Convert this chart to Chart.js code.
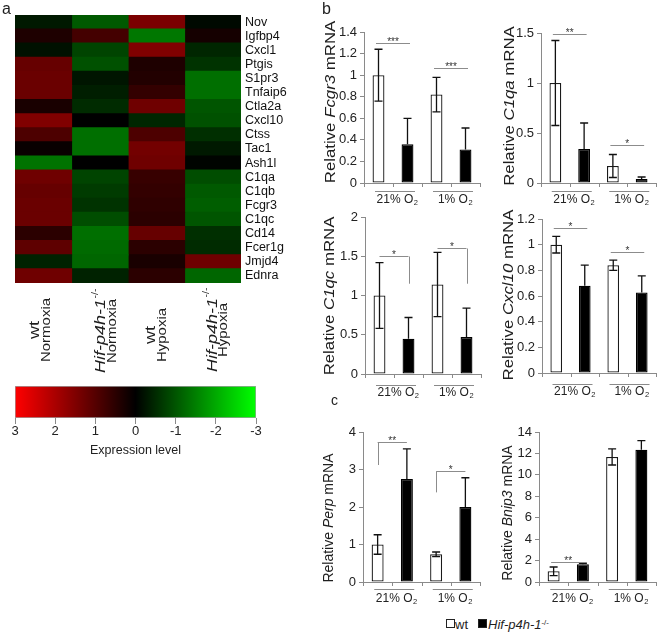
<!DOCTYPE html>
<html><head><meta charset="utf-8">
<script src="https://cdn.jsdelivr.net/npm/chart.js@4.4.1/dist/chart.umd.min.js"></script>
<style>
body{margin:0;background:#fff;width:660px;height:633px;position:relative;overflow:hidden;font-family:"Liberation Sans",Arial,sans-serif;}
canvas{position:absolute;}
.t{position:absolute;white-space:nowrap;color:#1e1e1e;line-height:1;}
.r{transform:translate(-50%,-50%) rotate(-90deg) scaleX(1.2);}
.rc{transform:translate(-50%,-50%) rotate(-90deg) scaleX(1.0);}
sup{font-size:60%;vertical-align:0.55em;line-height:0;}
.box{position:absolute;width:7px;height:7px;border:1px solid #222;}
</style></head><body>

<canvas id="hm" width="320" height="380" style="left:0;top:0"></canvas>
<canvas id="cb" width="300" height="90" style="left:0;top:375px"></canvas>
<canvas id="c1" width="170" height="215" style="left:320px;top:0"></canvas>
<canvas id="c2" width="170" height="215" style="left:490px;top:0"></canvas>
<canvas id="c3" width="170" height="200" style="left:320px;top:205px"></canvas>
<canvas id="c4" width="170" height="200" style="left:490px;top:205px"></canvas>
<canvas id="c5" width="170" height="200" style="left:320px;top:415px"></canvas>
<canvas id="c6" width="170" height="200" style="left:490px;top:415px"></canvas>

<div class="t" style="left:2px;top:1px;font-size:16px">a</div>
<div class="t" style="left:322px;top:1px;font-size:16px">b</div>
<div class="t" style="left:331px;top:393px;font-size:14px">c</div>

<div class="t r" style="left:330px;top:101.5px;font-size:14px">Relative <i>Fcgr3</i> mRNA</div>
<div class="t r" style="left:509px;top:106px;font-size:14px">Relative <i>C1qa</i> mRNA</div>
<div class="t r" style="left:329px;top:296px;font-size:14px">Relative <i>C1qc</i> mRNA</div>
<div class="t r" style="left:508px;top:295px;font-size:14px">Relative <i>Cxcl10</i> mRNA</div>
<div class="t rc" style="left:328px;top:518px;font-size:14px">Relative <i>Perp</i> mRNA</div>
<div class="t rc" style="left:507px;top:513px;font-size:14px">Relative <i>Bnip3</i> mRNA</div>

<div class="box" style="left:446px;top:619px;background:#fff"></div>
<div class="t" style="left:455px;top:618px;font-size:13px">wt</div>
<div class="box" style="left:478px;top:619px;background:#000"></div>
<div class="t" style="left:488px;top:618px;font-size:13px"><i>Hif-p4h-1</i><sup>-/-</sup></div>

<script>
// ---------- Heatmap data (expression level, red = up, green = down) ----------
const genes = ['Nov','Igfbp4','Cxcl1','Ptgis','S1pr3','Tnfaip6','Ctla2a','Cxcl10','Ctss','Tac1','Ash1l','C1qa','C1qb','Fcgr3','C1qc','Cd14','Fcer1g','Jmjd4','Ednra'];
const genotypes = ['wt', 'Hif-p4h-1', 'wt', 'Hif-p4h-1'];
const oxygenStates = ['Normoxia', 'Normoxia', 'Hypoxia', 'Hypoxia'];
const wtNormoxia = [-0.3, 0.35, -0.2, 1.2, 1.25, 1.25, 0.3, 1.5, 0.9, 0.1, -1.35, 1.3, 1.2, 1.25, 1.25, 0.5, 1.1, -0.4, 1.3];
const koNormoxia = [-1.05, 0.8, -0.8, -0.95, -0.25, -0.35, -0.5, 0.0, -1.3, -1.3, 0.0, -0.8, -0.7, -0.6, -0.9, -1.3, -1.25, -1.2, -0.4];
const wtHypoxia  = [1.45, -1.4, 1.5, 0.35, 0.4, 0.6, 1.3, -0.45, 0.9, 1.35, 1.3, 0.65, 0.6, 0.55, 0.5, 1.2, 0.5, 0.3, 0.5];
const koHypoxia  = [-0.1, 0.25, -0.45, -0.6, -1.3, -1.3, -1.0, -0.95, -0.55, -0.3, -0.05, -0.9, -1.05, -1.1, -1.0, -0.55, -0.5, 1.3, -1.2];
const cellWidth  = [1, 1, 1, 1, 1, 1, 1, 1, 1, 1, 1, 1, 1, 1, 1, 1, 1, 1, 1];
const colorbarRange = [3, -3];

// ---------- qPCR bar data ----------
const oxygen = ['21% O2', '1% O2'];
const fcgr3Wt = [1.0, 0.82],  fcgr3WtErr = [0.24, 0.16],  fcgr3Ko = [0.36, 0.31],  fcgr3KoErr = [0.24, 0.20];
const c1qaWt  = [1.0, 0.17],  c1qaWtErr  = [0.425, 0.115], c1qaKo = [0.34, 0.04],  c1qaKoErr  = [0.26, 0.02];
const c1qcWt  = [1.0, 1.14],  c1qcWtErr  = [0.42, 0.41],  c1qcKo  = [0.45, 0.47],  c1qcKoErr  = [0.27, 0.37];
const cxcl10Wt = [1.0, 0.84], cxcl10WtErr = [0.065, 0.04], cxcl10Ko = [0.68, 0.627], cxcl10KoErr = [0.16, 0.13];
const perpWt  = [1.0, 0.74],  perpWtErr  = [0.26, 0.06],  perpKo  = [2.75, 2.0],   perpKoErr  = [0.8, 0.78];
const bnip3Wt = [1.0, 11.67], bnip3WtErr = [0.4, 0.75],   bnip3Ko = [1.65, 12.35], bnip3KoErr = [0.1, 0.85];
// significance marks: group, bar height (value), optional bracket leg, label
const fcgr3Sig  = [{g:0, y:1.30, t:'***'}, {g:1, y:1.07, t:'***'}];
const c1qaSig   = [{g:0, y:1.49, t:'**'}, {g:1, y:0.377, t:'*'}];
const c1qcSig   = [{g:0, y:1.50, leg:'right', to:1.15, t:'*'}, {g:1, y:1.61, leg:'right', to:1.15, t:'*'}];
const cxcl10Sig = [{g:0, y:1.13, t:'*'}, {g:1, y:0.94, t:'*'}];
const perpSig   = [{g:0, y:3.74, leg:'left', to:3.12, t:'**'}, {g:1, y:2.95, leg:'left', to:2.39, t:'*'}];
const bnip3Sig  = [{g:0, y:1.83, t:'**'}];

const F = '"Liberation Sans", Arial, sans-serif';
const AX = '#8a8a8a';

function cellColor(v){
  const c = Math.round(255 * Math.min(1, Math.abs(v) / 3));
  return v >= 0 ? `rgb(${c},0,0)` : `rgb(0,${c},0)`;
}

// rotated column labels under the heatmap
const colLabels = {
  id: 'colLabels',
  afterDraw(chart, args, o) {
    const ctx = chart.ctx, xs = chart.scales.x;
    o.shift.forEach((dx, i) => {
      const cx = xs.getPixelForValue(i + 0.5) + dx;
      const cy = o.cy[i];
      const ko = genotypes[i] !== 'wt';
      // line 1 : genotype
      ctx.save();
      ctx.translate(cx - 5.5, cy); ctx.rotate(-Math.PI / 2); ctx.scale(1.2, 1);
      ctx.fillStyle = '#1e1e1e'; ctx.textBaseline = 'middle'; ctx.textAlign = 'left';
      const f1 = (ko ? 'italic ' : '') + '15px ' + F, fs = '9px ' + F;
      ctx.font = f1; const w1 = ctx.measureText(genotypes[i]).width;
      ctx.font = fs; const w2 = ko ? ctx.measureText('-/-').width : 0;
      const sx = -(w1 + w2) / 2;
      ctx.font = f1; ctx.fillText(genotypes[i], sx, 0);
      if (ko) { ctx.font = fs; ctx.fillText('-/-', sx + w1 + 0.5, -6); }
      ctx.restore();
      // line 2 : oxygen state
      ctx.save();
      ctx.translate(cx + 5.5, cy); ctx.rotate(-Math.PI / 2); ctx.scale(1.2, 1);
      ctx.fillStyle = '#1e1e1e'; ctx.textBaseline = 'middle'; ctx.textAlign = 'center';
      ctx.font = '12.5px ' + F; ctx.fillText(oxygenStates[i], 0, 0);
      ctx.restore();
    });
  }
};

// ---------- Heatmap ----------
new Chart(document.getElementById('hm'), {
  type: 'bar',
  data: {
    labels: genes,
    datasets: [wtNormoxia, koNormoxia, wtHypoxia, koHypoxia].map((col, i) => ({
      label: genotypes[i] + ' ' + oxygenStates[i], data: cellWidth,
      backgroundColor: col.map(cellColor), borderWidth: 0, inflateAmount: 0.6
    }))
  },
  options: {
    indexAxis: 'y', responsive: false, animation: false,
    layout: {padding: {left: 15, top: 15, right: 0, bottom: 97}},
    datasets: {bar: {categoryPercentage: 1, barPercentage: 1}},
    scales: {
      x: {stacked: true, min: 0, max: 4, display: false},
      y: {stacked: true, position: 'right', grid: {display: false, drawTicks: false}, border: {display: false},
          ticks: {font: {family: F, size: 12.5}, color: '#111', padding: 4, autoSkip: false},
          afterFit: s => { s.width = 79; }}
    },
    plugins: {legend: {display: false}, tooltip: {enabled: false},
              colLabels: {shift: [-2.5, 7, 0.5, 5.5], cy: [330, 331, 335, 330]}}
  },
  plugins: [colLabels]
});

// ---------- Colorbar ----------
new Chart(document.getElementById('cb'), {
  type: 'bar',
  data: {labels: ['Expression level'], datasets: [{
    data: [colorbarRange],
    backgroundColor: (ctx) => {
      const ca = ctx.chart.chartArea;
      if (!ca) return '#000';
      const g = ctx.chart.ctx.createLinearGradient(ca.left, 0, ca.right, 0);
      g.addColorStop(0, '#ff0000'); g.addColorStop(0.5, '#000000'); g.addColorStop(1, '#00ff00');
      return g;
    },
    borderColor: '#a0a0a0', borderWidth: 1, borderSkipped: false
  }]},
  options: {
    indexAxis: 'y', responsive: false, animation: false,
    layout: {padding: {left: 15, top: 11, right: 44, bottom: 0}},
    datasets: {bar: {categoryPercentage: 1, barPercentage: 1}},
    scales: {
      x: {type: 'linear', min: -3, max: 3, reverse: true,
          ticks: {stepSize: 1, font: {family: F, size: 13}, color: '#222', padding: 0},
          grid: {drawOnChartArea: false, color: AX, tickLength: 6}, border: {display: false},
          title: {display: true, text: 'Expression level', font: {family: F, size: 12.5}, color: '#222', padding: {top: 0, bottom: 7}},
          afterFit: s => { s.height = 47; }},
      y: {display: false}
    },
    plugins: {legend: {display: false}, tooltip: {enabled: false}}
  }
});

// ---------- bar chart decorations ----------
const deco = {
  id: 'deco',
  afterDatasetsDraw(chart, args, o) {
    const ctx = chart.ctx, y = chart.scales.y;
    ctx.save();
    ctx.strokeStyle = '#111'; ctx.lineWidth = 1.3;
    o.errors.forEach((errs, di) => {
      const meta = chart.getDatasetMeta(di);
      meta.data.forEach((el, j) => {
        const v = chart.data.datasets[di].data[j], e = errs[j];
        const top = y.getPixelForValue(v + e), bot = y.getPixelForValue(Math.max(0, v - e));
        ctx.beginPath();
        ctx.moveTo(el.x, top); ctx.lineTo(el.x, di === 0 ? bot : y.getPixelForValue(v));
        ctx.moveTo(el.x - 4, top); ctx.lineTo(el.x + 4, top);
        if (di === 0) { ctx.moveTo(el.x - 4, bot); ctx.lineTo(el.x + 4, bot); }
        ctx.stroke();
      });
    });
    const m0 = chart.getDatasetMeta(0), m1 = chart.getDatasetMeta(1);
    ctx.strokeStyle = '#8c8c8c'; ctx.lineWidth = 1;
    o.sig.forEach(s => {
      const xa = m0.data[s.g].x, xb = m1.data[s.g].x;
      const py = Math.round(y.getPixelForValue(s.y)) + 0.5;
      let x1 = xa, x2 = xb;
      if (!s.leg) { x1 = xa - 2.5; x2 = xb + 2.5; }
      ctx.beginPath();
      ctx.moveTo(x1, py); ctx.lineTo(x2, py);
      if (s.leg) {
        const lx = Math.round(s.leg === 'left' ? x1 : x2) + 0.5;
        ctx.moveTo(lx, py); ctx.lineTo(lx, y.getPixelForValue(s.to));
      }
      ctx.stroke();
      ctx.fillStyle = '#333'; ctx.font = '10px ' + F; ctx.textAlign = 'center'; ctx.textBaseline = 'alphabetic';
      ctx.fillText(s.t, (x1 + x2) / 2, py + 1);
    });
    ctx.restore();
  },
  afterDraw(chart, args, o) {
    const ctx = chart.ctx, x = chart.scales.x, ca = chart.chartArea;
    ctx.save();
    ctx.strokeStyle = AX; ctx.lineWidth = 1;
    const n = chart.data.labels.length * 2, slot = (ca.right - ca.left) / n;
    ctx.beginPath();
    for (let k = 0; k <= n; k++) {
      const px = Math.round(ca.left + k * slot) + 0.5;
      ctx.moveTo(px, ca.bottom); ctx.lineTo(px, ca.bottom + 4);
    }
    ctx.stroke();
    chart.data.labels.forEach((lab, i) => {
      const cx = x.getPixelForValue(i);
      const main = lab.slice(0, -1), sub = lab.slice(-1);
      ctx.font = '12px ' + F; const w1 = ctx.measureText(main).width;
      ctx.font = '7.5px ' + F; const w2 = ctx.measureText(sub).width;
      const sx = cx - (w1 + w2) / 2 + 4;
      ctx.fillStyle = '#222'; ctx.textAlign = 'left'; ctx.textBaseline = 'alphabetic';
      ctx.font = '12px ' + F; ctx.fillText(main, sx, ca.bottom + o.labelY);
      ctx.font = '7.5px ' + F; ctx.fillText(sub, sx + w1 + 0.5, ca.bottom + o.labelY + 2);
      const ly = Math.round(ca.bottom + o.lineY) + 0.5;
      ctx.beginPath(); ctx.moveTo(cx - 18, ly); ctx.lineTo(cx + 22, ly); ctx.stroke();
    });
    ctx.restore();
  }
};

function makeBar(id, c) {
  const cv = document.getElementById(id);
  const L = parseFloat(cv.style.left), T = parseFloat(cv.style.top), W = cv.width, H = cv.height;
  return new Chart(cv, {
    type: 'bar',
    data: {labels: oxygen, datasets: [
      {label: 'wt', data: c.wt, backgroundColor: '#ffffff', borderColor: '#1a1a1a', borderWidth: 1.3, borderSkipped: false},
      {label: 'Hif-p4h-1-/-', data: c.ko, backgroundColor: '#000000', borderColor: '#000000', borderWidth: 1.3, borderSkipped: false}
    ]},
    options: {
      responsive: false, animation: false,
      layout: {padding: {left: 0, top: c.top - T, right: L + W - c.right, bottom: 0}},
      datasets: {bar: {categoryPercentage: 1, barPercentage: 0.41}},
      scales: {
        x: {grid: {display: false}, border: {color: AX, width: 1}, ticks: {display: false},
            afterFit: s => { s.height = T + H - c.bottom; }},
        y: {min: 0, max: c.max,
            ticks: {stepSize: c.step, font: {family: F, size: 13}, color: '#222', padding: 3,
                    callback: v => String(Math.round(v * 10) / 10)},
            grid: {drawOnChartArea: false, color: AX, tickLength: 4}, border: {color: AX},
            afterFit: s => { s.width = c.axisX - L; }}
      },
      plugins: {legend: {display: false}, tooltip: {enabled: false},
                deco: {errors: [c.wtErr, c.koErr], sig: c.sig, labelY: c.labelY, lineY: c.lineY}}
    },
    plugins: [deco]
  });
}

makeBar('c1', {wt: fcgr3Wt, ko: fcgr3Ko, wtErr: fcgr3WtErr, koErr: fcgr3KoErr, sig: fcgr3Sig, max: 1.4, step: 0.2,
  axisX: 364, right: 480, top: 32, bottom: 183, labelY: 20, lineY: 8});
makeBar('c2', {wt: c1qaWt, ko: c1qaKo, wtErr: c1qaWtErr, koErr: c1qaKoErr, sig: c1qaSig, max: 1.5, step: 0.5,
  axisX: 541, right: 656, top: 33, bottom: 183, labelY: 20, lineY: 8});
makeBar('c3', {wt: c1qcWt, ko: c1qcKo, wtErr: c1qcWtErr, koErr: c1qcKoErr, sig: c1qcSig, max: 2, step: 0.5,
  axisX: 365, right: 481, top: 217, bottom: 374, labelY: 22, lineY: 11});
makeBar('c4', {wt: cxcl10Wt, ko: cxcl10Ko, wtErr: cxcl10WtErr, koErr: cxcl10KoErr, sig: cxcl10Sig, max: 1.2, step: 0.2,
  axisX: 542, right: 656, top: 219, bottom: 373, labelY: 22, lineY: 11});
makeBar('c5', {wt: perpWt, ko: perpKo, wtErr: perpWtErr, koErr: perpKoErr, sig: perpSig, max: 4, step: 1,
  axisX: 363, right: 480, top: 432, bottom: 582, labelY: 20, lineY: 7});
makeBar('c6', {wt: bnip3Wt, ko: bnip3Ko, wtErr: bnip3WtErr, koErr: bnip3KoErr, sig: bnip3Sig, max: 14, step: 2,
  axisX: 539, right: 656, top: 432, bottom: 582, labelY: 20, lineY: 7});
</script>
</body></html>
